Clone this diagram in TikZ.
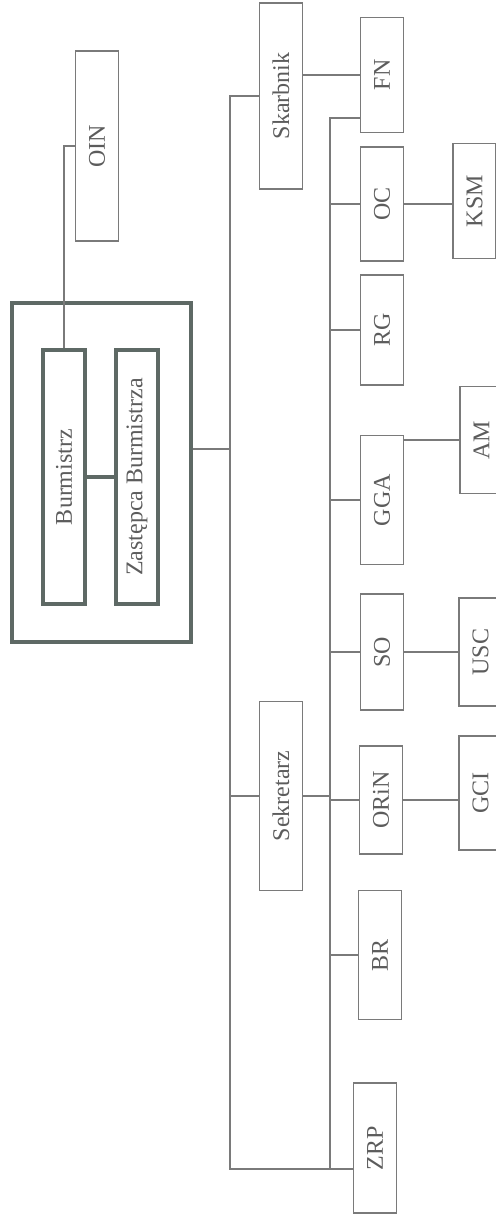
\documentclass[tikz,border=0pt]{standalone}
\usepackage{fontspec}
\setmainfont{Liberation Serif}
\usepackage{graphicx}
\usetikzlibrary{positioning,calc}
\definecolor{linegray}{HTML}{7A7A7A}
\definecolor{framegray}{HTML}{5E6965}
\definecolor{textgray}{HTML}{5C5C5C}

\begin{document}
\begin{tikzpicture}[
    x=0.5pt, y=-0.5pt,
    unit/.style={draw=linegray, line width=0.6pt, inner sep=0pt, minimum width=21.5pt, text=textgray, font=\fontsize{12}{14}\selectfont},
    head/.style={unit, draw=framegray, line width=1.8pt, minimum width=21pt, minimum height=127pt},
    link/.style={draw=linegray, line width=0.6pt},
    headlink/.style={draw=framegray, line width=1.8pt}
]
    \useasboundingbox (0,0) rectangle (496,1216);
    \clip (0,0) rectangle (496,1216);

    % Zarzad
    \node[draw=framegray, line width=1.8pt, inner sep=0pt, minimum width=89.5pt, minimum height=169.5pt] (zarzad) at (101.5,472.5) {};
    \node[head] (burm) at (64,477) {\rotatebox{90}{Burmistrz}};
    \node[head] (zast) at (137,477) {\rotatebox{90}{Zastępca Burmistrza}};
    \node[unit, minimum height=95pt] (oin) at (97,146) {\rotatebox{90}{OIN}};

    % kierownictwo
    \node[unit, minimum height=93pt] (skarbnik) at (281,96) {\rotatebox{90}{Skarbnik}};
    \node[unit, minimum height=94.5pt] (sekretarz) at (281,796) {\rotatebox{90}{Sekretarz}};

    % wydzialy
    \node[unit, minimum height=57.5pt] (fn) at (382,75) {\rotatebox{90}{FN}};
    \node[unit, minimum height=57pt] (oc) at (382,204) {\rotatebox{90}{OC}};
    \node[unit, minimum height=55pt] (rg) at (382,330) {\rotatebox{90}{RG}};
    \node[unit, minimum height=64.5pt] (gga) at (382,500) {\rotatebox{90}{GGA}};
    \node[unit, minimum height=58pt] (so) at (382,652) {\rotatebox{90}{SO}};
    \node[unit, minimum height=54pt] (orin) at (381,800) {\rotatebox{90}{ORiN}};
    \node[unit, minimum height=64.5pt] (br) at (380,955) {\rotatebox{90}{BR}};
    \node[unit, minimum height=65pt] (zrp) at (375,1148) {\rotatebox{90}{ZRP}};

    % jednostki
    \node[unit, minimum height=57.5pt] (ksm) at (474.5,201) {\rotatebox{90}{KSM}};
    \node[unit, minimum height=53.5pt] (am) at (481.5,440) {\rotatebox{90}{AM}};
    \node[unit, minimum height=54pt] (usc) at (480.5,652) {\rotatebox{90}{USC}};
    \node[unit, minimum height=57pt] (gci) at (480.5,793) {\rotatebox{90}{GCI}};

    \coordinate (spineA) at (230,1169);
    \coordinate (spineB) at (330,1169);

    \draw[link] (burm.north) |- (oin.west);
    \draw[headlink] (burm) -- (zast);

    \draw[link] (skarbnik.west) -| (spineA) -- (spineA -| zrp.west);
    \draw[link] ([yshift=11.75pt]zarzad.east) -- ([yshift=11.75pt]zarzad.east -| spineA);
    \draw[link] (sekretarz.west) -- (sekretarz.west -| spineA);

    \draw[link] (skarbnik.east |- fn.west) -- (fn.west);
    \draw[link] ([yshift=-21.5pt]fn.west) -| (spineB);
    \foreach \u in {oc,rg,gga,so,orin,br}
        \draw[link] (\u.west) -- (\u.west -| spineB);
    \draw[link] (sekretarz.east) -- (sekretarz.east -| spineB);

    \draw[link] (oc.east) -- (oc.east -| ksm.west);
    \draw[link] (am.west -| gga.east) -- (am.west);
    \draw[link] (so) -- (usc);
    \draw[link] (orin.east) -- (orin.east -| gci.west);
\end{tikzpicture}
\end{document}
